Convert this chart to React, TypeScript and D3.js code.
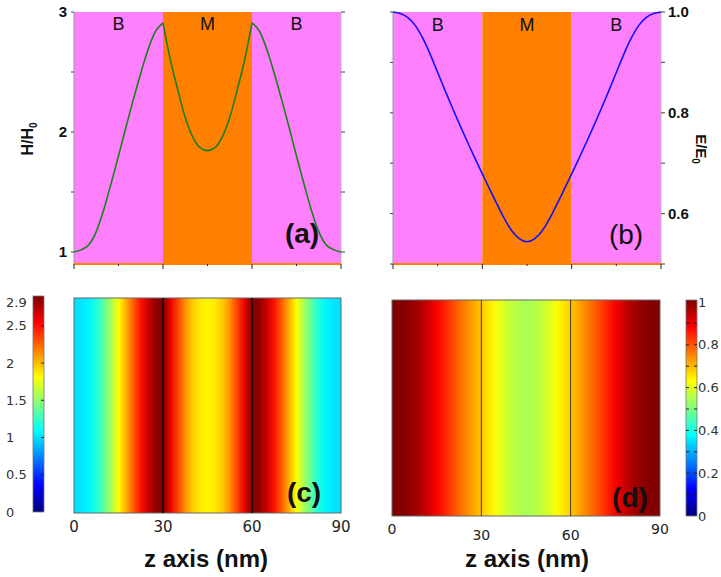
import React from 'react';
import * as d3 from 'd3';

// ---- data ----
const zPoints = [0, 2.5, 5, 7.5, 10, 12.5, 15, 17.5, 20, 22.5, 25, 27.5, 30, 32.5, 35, 37.5, 40, 42.5, 45,
  47.5, 50, 52.5, 55, 57.5, 60, 62.5, 65, 67.5, 70, 72.5, 75, 77.5, 80, 82.5, 85, 87.5, 90];
const hField = [1.00, 1.02, 1.06, 1.17, 1.35, 1.57, 1.80, 2.04, 2.27, 2.49, 2.69, 2.84, 2.91, 2.60, 2.35, 2.12, 1.96, 1.87, 1.845,
  1.87, 1.96, 2.12, 2.35, 2.60, 2.91, 2.84, 2.69, 2.49, 2.27, 2.04, 1.80, 1.57, 1.35, 1.17, 1.06, 1.02, 1.00];
const eField = [1.000, 0.997, 0.989, 0.973, 0.948, 0.916, 0.880, 0.844, 0.809, 0.775, 0.742, 0.710, 0.679, 0.648, 0.618, 0.589, 0.565, 0.550, 0.544,
  0.550, 0.565, 0.589, 0.618, 0.648, 0.679, 0.710, 0.742, 0.775, 0.809, 0.844, 0.880, 0.916, 0.948, 0.973, 0.989, 0.997, 1.000];
const regionLabels = ['B', 'M', 'B'];
const regionBounds = [0, 30, 60, 90];
const xTicks = [0, 30, 60, 90];
const xMinorTicks = [0, 15, 30, 45, 60, 75, 90];
const hTicks = [1, 2, 3];
const hMinorTicks = [1, 1.5, 2, 2.5, 3];
const eTicks = [0.6, 0.8, 1.0];
const eMinorTicks = [0.5, 0.6, 0.7, 0.8, 0.9, 1.0];
const hBarTicks = [0, 0.5, 1, 1.5, 2, 2.5, 2.9];
const eBarTicks = [0, 0.2, 0.4, 0.6, 0.8, 1];
const eBarMinor = [0.1, 0.2, 0.3, 0.4, 0.5, 0.6, 0.7, 0.8, 0.9];
const jetColors = ['#00007f', '#0000ff', '#007fff', '#00ffff', '#7fff7f', '#ffff00', '#ff7f00', '#ff0000', '#7f0000'];
const jetPos = [0, 0.125, 0.25, 0.375, 0.5, 0.625, 0.75, 0.875, 1];

const PINK = '#ff80ff';
const ORANGE = '#ff8000';
const ARIAL = '"Liberation Sans", Arial, sans-serif';
const VERD = '"DejaVu Sans", Verdana, sans-serif';

const jet = d3.scaleLinear<string>().domain(jetPos).range(jetColors).interpolate(d3.interpolateRgb).clamp(true);

export default function App() {
  // panel a
  const xA = d3.scaleLinear().domain([0, 90]).range([74, 341]);
  const yA = d3.scaleLinear().domain([0.9, 3]).range([264, 12]);
  // panel b
  const xB = d3.scaleLinear().domain([0, 90]).range([393, 661]);
  const yB = d3.scaleLinear().domain([0.5, 1.0]).range([264, 12]);
  // panel c
  const xC = d3.scaleLinear().domain([0, 90]).range([74, 341]);
  const cTop = 298, cBot = 513;
  const barC = d3.scaleLinear().domain([0, 2.9]).range([512, 296]);
  // panel d
  const xD = d3.scaleLinear().domain([0, 90]).range([392, 660]);
  const dTop = 300, dBot = 516;
  const barD = d3.scaleLinear().domain([0, 1]).range([516, 302]);

  const pts = zPoints.map((z, i) => ({ z, h: hField[i], e: eField[i] }));

  const lineH = d3.line<{ z: number; h: number }>().x(d => xA(d.z)).y(d => yA(d.h)).curve(d3.curveMonotoneX);
  const lineE = d3.line<{ z: number; e: number }>().x(d => xB(d.z)).y(d => yB(d.e)).curve(d3.curveMonotoneX);

  const hSegments = regionLabels.map((_, i) =>
    pts.filter(p => p.z >= regionBounds[i] && p.z <= regionBounds[i + 1]));

  const regionRects = (xs: d3.ScaleLinear<number, number>, y0: number, y1: number) =>
    regionLabels.map((lab, i) => (
      <rect key={i} x={xs(regionBounds[i])} y={y0} width={xs(regionBounds[i + 1]) - xs(regionBounds[i])}
        height={y1 - y0} fill={lab === 'M' ? ORANGE : PINK} />
    ));

  const regionText = (xs: d3.ScaleLinear<number, number>, y: number) =>
    regionLabels.map((lab, i) => (
      <text key={i} x={xs((regionBounds[i] + regionBounds[i + 1]) / 2)} y={y} textAnchor="middle"
        fontFamily={ARIAL} fontSize={18} fill="#111">{lab}</text>
    ));

  const bottomAxis = (xs: d3.ScaleLinear<number, number>, y: number) => (
    <g>
      <line x1={xs(0)} x2={xs(90)} y1={y} y2={y} stroke={ORANGE} strokeWidth={2} />
      {xMinorTicks.map(t => (
        <line key={t} x1={xs(t)} x2={xs(t)} y1={y} y2={y + (t % 30 === 0 ? 5 : 2)} stroke="#222" strokeWidth={1} />
      ))}
    </g>
  );

  return (
    <svg width={721} height={577} style={{ position: 'absolute', left: 0, top: 0, background: '#fff' }}>
      <defs>
        <linearGradient id="gradH" x1="0" x2="1" y1="0" y2="0">
          {pts.map((p, i) => (
            <stop key={i} offset={p.z / 90} stopColor={jet(p.h / 2.9)} />
          ))}
        </linearGradient>
        <linearGradient id="gradE" x1="0" x2="1" y1="0" y2="0">
          {pts.map((p, i) => (
            <stop key={i} offset={p.z / 90} stopColor={jet(p.e)} />
          ))}
        </linearGradient>
        <linearGradient id="gradBar" x1="0" x2="0" y1="1" y2="0">
          {jetPos.map((t, i) => (
            <stop key={i} offset={t} stopColor={jetColors[i]} />
          ))}
        </linearGradient>
      </defs>

      {/* ---------- panel a ---------- */}
      <g>
        {regionRects(xA, 12, 264)}
        <line x1={74} x2={74} y1={12} y2={264} stroke="#999" strokeWidth={1} />
        <line x1={341} x2={341} y1={12} y2={264} stroke="#bbb" strokeWidth={1} />
        {hMinorTicks.map(t => (
          <g key={t}>
            <line x1={71} x2={74} y1={yA(t)} y2={yA(t)} stroke="#444" />
            <line x1={341} x2={345} y1={yA(t)} y2={yA(t)} stroke="#444" />
          </g>
        ))}
        {hTicks.map(t => (
          <text key={t} x={67} y={yA(t)} dy="0.36em" textAnchor="end" fontFamily={ARIAL} fontWeight="bold"
            fontSize={15} fill="#111">{t}</text>
        ))}
        {bottomAxis(xA, 264)}
        {hSegments.map((seg, i) => (
          <path key={i} d={lineH(seg) || ''} fill="none" stroke="#1a801a" strokeWidth={1.6} />
        ))}
        {regionText(xA, 30)}
        <text x={302} y={243} textAnchor="middle" fontFamily={ARIAL} fontWeight="bold" fontSize={28} fill="#111">(a)</text>
        <text transform="translate(33,139) rotate(-90)" textAnchor="middle" fontFamily={ARIAL} fontWeight="bold"
          fontSize={16} fill="#111">H/H<tspan fontSize={10} dy={4}>0</tspan></text>
      </g>

      {/* ---------- panel b ---------- */}
      <g>
        {regionRects(xB, 12, 264)}
        <line x1={393} x2={393} y1={12} y2={264} stroke="#999" strokeWidth={1} />
        <line x1={661} x2={661} y1={12} y2={264} stroke="#bbb" strokeWidth={1} />
        {eMinorTicks.map(t => (
          <g key={t}>
            <line x1={390} x2={393} y1={yB(t)} y2={yB(t)} stroke="#444" />
            <line x1={661} x2={665} y1={yB(t)} y2={yB(t)} stroke="#444" />
          </g>
        ))}
        {eTicks.map(t => (
          <text key={t} x={668} y={yB(t)} dy="0.36em" textAnchor="start" fontFamily={ARIAL} fontWeight="bold"
            fontSize={15} fill="#111">{t.toFixed(1)}</text>
        ))}
        {bottomAxis(xB, 264)}
        <path d={lineE(pts) || ''} fill="none" stroke="#1010ff" strokeWidth={1.6} />
        {regionText(xB, 31)}
        <text x={626} y={244} textAnchor="middle" fontFamily={ARIAL} fontSize={28} fill="#111">(b)</text>
        <text transform="translate(696,149) rotate(90)" textAnchor="middle" fontFamily={ARIAL} fontWeight="bold"
          fontSize={15} fill="#111">E/E<tspan fontSize={10} dy={4}>0</tspan></text>
      </g>

      {/* ---------- panel c ---------- */}
      <g>
        <rect x={xC(0)} y={cTop} width={xC(90) - xC(0)} height={cBot - cTop} fill="url(#gradH)" stroke="#666" strokeWidth={1} />
        {[30, 60].map(t => (
          <line key={t} x1={xC(t)} x2={xC(t)} y1={cTop} y2={cBot} stroke="#1a0000" strokeWidth={1.5} />
        ))}
        <rect x={33} y={barC(2.9)} width={11} height={barC(0) - barC(2.9)} fill="url(#gradBar)" stroke="#777" strokeWidth={0.8} />
        {hBarTicks.filter(t => t > 0 && t < 2.9).map(t => (
          <line key={t} x1={41} x2={44} y1={barC(t)} y2={barC(t)} stroke="#222" strokeWidth={1} />
        ))}
        {hBarTicks.map(t => (
          <text key={t} x={6} y={Math.max(barC(t), 302)} dy="0.36em" fontFamily={VERD} fontSize={13} fill="#333">{t}</text>
        ))}
        {xTicks.map(t => (
          <text key={t} x={xC(t)} y={527} dy="0.36em" textAnchor="middle" fontFamily={VERD} fontSize={15} fill="#222">{t}</text>
        ))}
        <text x={304} y={502} textAnchor="middle" fontFamily={ARIAL} fontWeight="bold" fontSize={28} fill="#111">(c)</text>
        <text x={206} y={567} textAnchor="middle" fontFamily={ARIAL} fontWeight="bold" fontSize={24} fill="#111">z axis (nm)</text>
      </g>

      {/* ---------- panel d ---------- */}
      <g>
        <rect x={xD(0)} y={dTop} width={xD(90) - xD(0)} height={dBot - dTop} fill="url(#gradE)" stroke="#666" strokeWidth={1} />
        {[30, 60].map(t => (
          <line key={t} x1={xD(t)} x2={xD(t)} y1={dTop} y2={dBot} stroke="#3a3a20" strokeWidth={1} />
        ))}
        <rect x={686} y={300} width={11} height={516 - 300} fill="url(#gradBar)" stroke="#777" strokeWidth={0.8} />
        {eBarMinor.map(t => (
          <g key={t}>
            <line x1={686} x2={689} y1={barD(t)} y2={barD(t)} stroke="#222" strokeWidth={1} />
            <line x1={694} x2={697} y1={barD(t)} y2={barD(t)} stroke="#222" strokeWidth={1} />
          </g>
        ))}
        {eBarTicks.map(t => (
          <text key={t} x={698} y={barD(t)} dy="0.36em" fontFamily={VERD} fontSize={13} fill="#333">{t}</text>
        ))}
        {xTicks.map((t, i) => (
          <text key={t} x={xD(t)} y={i === 0 || i === 3 ? 529 : 535} dy="0.36em" textAnchor="middle"
            fontFamily={VERD} fontSize={14} fill="#222">{t}</text>
        ))}
        <text x={630} y={507} textAnchor="middle" fontFamily={ARIAL} fontWeight="bold" fontSize={28} fill="#111">(d)</text>
        <text x={527} y={567} textAnchor="middle" fontFamily={ARIAL} fontWeight="bold" fontSize={24} fill="#111">z axis (nm)</text>
      </g>
    </svg>
  );
}
